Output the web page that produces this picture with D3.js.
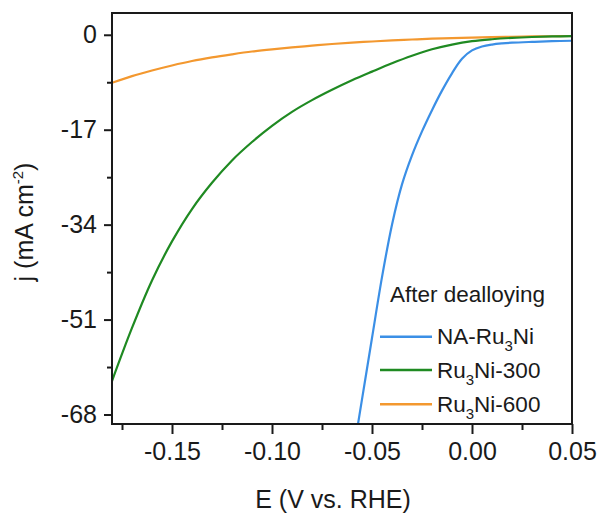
<!DOCTYPE html>
<html><head><meta charset="utf-8">
<script src="https://cdn.jsdelivr.net/npm/d3@7"></script>
<style>body{margin:0;background:#fff}svg{display:block}text{font-family:"Liberation Sans",Arial,sans-serif;fill:#1a1a1a}</style>
</head><body>
<svg id="c" width="603" height="517"></svg>
<script>
// Data
const eGrid = [-0.18,-0.17,-0.16,-0.15,-0.14,-0.13,-0.12,-0.11,-0.10,-0.09,-0.08,-0.07,-0.06,-0.05,-0.04,-0.03,-0.02,-0.01,0.00,0.01,0.02,0.03,0.04,0.05];
const jRu3Ni300 = [-62.0,-52.5,-44.0,-37.0,-31.2,-26.5,-22.5,-19.2,-16.3,-13.8,-11.7,-9.85,-8.15,-6.6,-5.1,-3.75,-2.6,-1.75,-1.15,-0.8,-0.56,-0.4,-0.3,-0.25];
const jRu3Ni600 = [-8.6,-7.4,-6.4,-5.5,-4.7,-4.05,-3.5,-3.0,-2.6,-2.25,-1.95,-1.65,-1.4,-1.2,-1.0,-0.85,-0.7,-0.6,-0.5,-0.42,-0.35,-0.3,-0.26,-0.22];
const eNA = [-0.060,-0.055,-0.050,-0.045,-0.040,-0.035,-0.030,-0.025,-0.020,-0.015,-0.010,-0.005,0.000,0.005,0.010,0.015,0.020,0.030,0.040,0.050];
const jNA = [-76.3,-65.3,-54.3,-43.4,-34.0,-26.8,-21.6,-17.3,-13.5,-10.0,-6.9,-4.3,-2.8,-2.1,-1.75,-1.55,-1.42,-1.27,-1.15,-1.07];
const xTicks = [-0.15,-0.10,-0.05,0.00,0.05];
const xMinor = [-0.175,-0.125,-0.075,-0.025,0.025];
const yTicks = [0,-17,-34,-51,-68];
const yMinor = [-8.5,-25.5,-42.5,-59.5];
const seriesNames = ["NA-Ru3Ni","Ru3Ni-300","Ru3Ni-600"];
const colors = ["#3b8fe6","#1f8a22","#f3982f"];

const svg = d3.select("#c");
const L=112, T=13, R=572, B=424;
const x = d3.scaleLinear().domain([-0.18,0.05]).range([L,R]);
const y = d3.scaleLinear().domain([-69.7,3.9]).range([B,T]);

svg.append("defs").append("clipPath").attr("id","clip")
  .append("rect").attr("x",L).attr("y",T).attr("width",R-L).attr("height",B-T);

const series = [
  {name:seriesNames[0], e:eNA, j:jNA, c:colors[0]},
  {name:seriesNames[1], e:eGrid, j:jRu3Ni300, c:colors[1]},
  {name:seriesNames[2], e:eGrid, j:jRu3Ni600, c:colors[2]}
];
const line = d3.line().x(d=>x(d[0])).y(d=>y(d[1])).curve(d3.curveCatmullRom.alpha(0.5));
const g = svg.append("g").attr("clip-path","url(#clip)");
series.slice().reverse().forEach(s=>{
  g.append("path").attr("d", line(s.e.map((v,i)=>[v,s.j[i]])))
   .attr("fill","none").attr("stroke",s.c).attr("stroke-width",2.2);
});

// axes
const xAxis = svg.append("g").attr("transform",`translate(0,${B})`)
  .call(d3.axisBottom(x).tickValues(xTicks).tickFormat(d3.format(".2f")).tickSize(10).tickPadding(8));
const xAxisMinor = svg.append("g").attr("transform",`translate(0,${B})`)
  .call(d3.axisBottom(x).tickValues(xMinor).tickFormat("").tickSize(6));
const yAxis = svg.append("g").attr("transform",`translate(${L},0)`)
  .call(d3.axisLeft(y).tickValues(yTicks).tickFormat(d=>String(d)).tickSize(8).tickPadding(7));
const yAxisMinor = svg.append("g").attr("transform",`translate(${L},0)`)
  .call(d3.axisLeft(y).tickValues(yMinor).tickFormat("").tickSize(5));
[xAxis,xAxisMinor,yAxis,yAxisMinor].forEach(a=>{
  a.select(".domain").remove();
  a.selectAll(".tick line").attr("stroke","#1a1a1a").attr("stroke-width",2);
  a.selectAll(".tick text").attr("font-size",25).attr("fill","#1a1a1a").attr("font-family",'"Liberation Sans",Arial,sans-serif');
});
xAxis.selectAll(".tick text").text(d=>d3.format(".2f")(d).replace("−","-"));
yAxis.selectAll(".tick text").text(d=>String(d).replace("−","-"));

svg.append("rect").attr("x",L).attr("y",T).attr("width",R-L).attr("height",B-T)
  .attr("fill","none").attr("stroke","#1a1a1a").attr("stroke-width",2);

// axis titles
svg.append("text").attr("x",333).attr("y",508).attr("text-anchor","middle").attr("font-size",25).text("E (V vs. RHE)");
const yt = svg.append("text").attr("transform","translate(33,222) rotate(-90)").attr("text-anchor","middle").attr("font-size",25);
yt.append("tspan").text("j (mA cm");
yt.append("tspan").attr("font-size",15).attr("dy",-10).text("-2");
yt.append("tspan").attr("dy",10).text(")");

// legend
svg.append("text").attr("x",390).attr("y",302).attr("font-size",22.5).text("After dealloying");
const legY = [336.7,370,404.3];
series.forEach((s,i)=>{
  svg.append("line").attr("x1",380).attr("x2",432).attr("y1",legY[i]).attr("y2",legY[i])
    .attr("stroke",s.c).attr("stroke-width",2.5);
  const t = svg.append("text").attr("x",437).attr("y",legY[i]+7.5).attr("font-size",22.5);
  const k = s.name.indexOf("3");
  t.append("tspan").text(s.name.slice(0,k));
  t.append("tspan").attr("font-size",15).attr("dy",7).text("3");
  t.append("tspan").attr("dy",-7).text(s.name.slice(k+1));
});
</script>
</body></html>
